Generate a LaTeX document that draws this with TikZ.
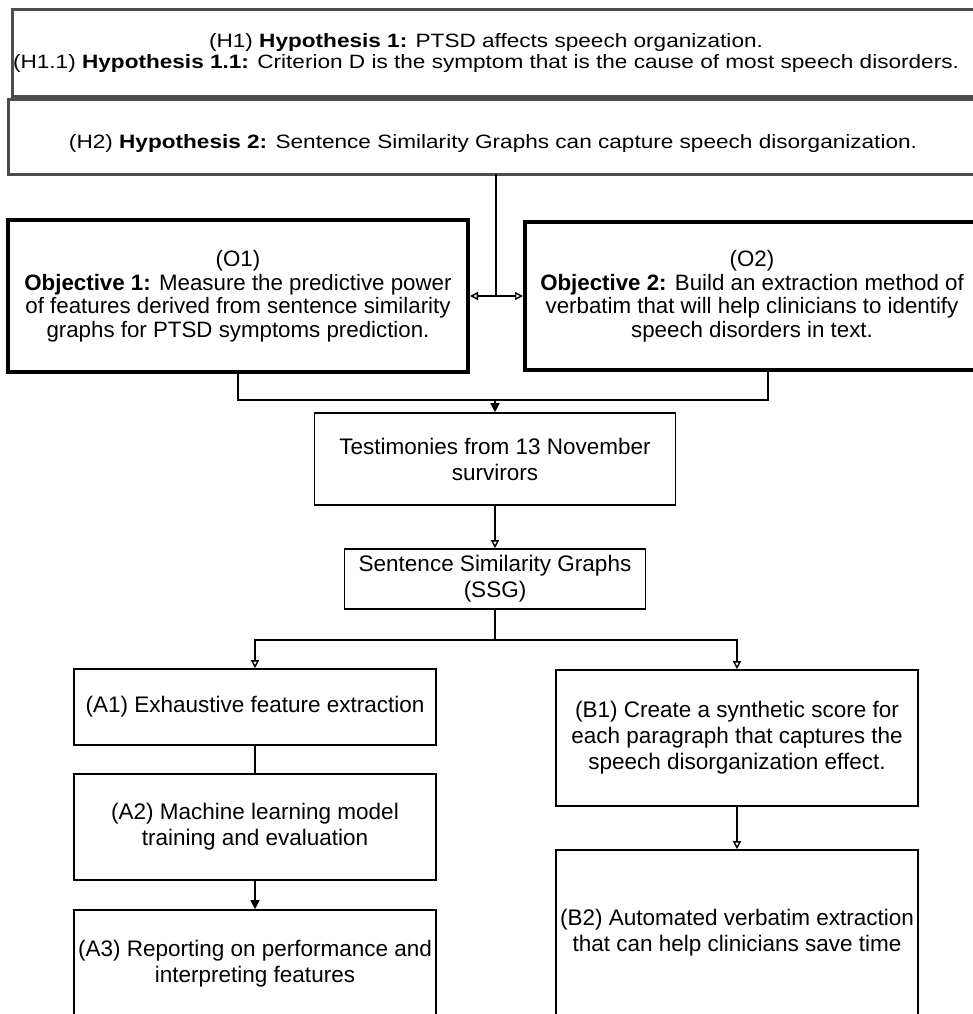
\documentclass[tikz,border=0pt]{standalone}
\usepackage{fontspec}
\setmainfont{Liberation Sans}
\newfontfamily\hypfont[FakeStretch=1.17]{Liberation Sans}
\usetikzlibrary{arrows.meta,calc}

\begin{document}
\begin{tikzpicture}[x=1pt,y=-1pt,
    box/.style={draw, line width=1.6pt, align=center, inner sep=2pt, font=\fontsize{22.5}{26}\selectfont},
    objbox/.style={box, line width=4pt, font=\fontsize{22.3}{23.5}\selectfont},
    hyptext/.style={align=center, inner sep=0pt, font=\hypfont\fontsize{19.3}{21}\selectfont},
    hframe/.style={draw=black!70, line width=3pt},
    line/.style={line width=1.4pt},
    link/.style={line, -{Triangle[open, length=8pt, width=8pt]}},
    solidlink/.style={line, -{Triangle[length=9pt, width=9pt]}}]
    \useasboundingbox (0,0) rectangle (973,1014);

    % hypotheses
    \draw [hframe] (12,10) rectangle (995,97);
    \draw [hframe] (8,100) rectangle (995,174);
    \node [hyptext] (h1) at (486,53) {(H1) \textbf{Hypothesis 1:} PTSD affects speech organization.\\(H1.1) \textbf{Hypothesis 1.1:} Criterion D is the symptom that is the cause of most speech disorders.};
    \node [hyptext] (h2) at (493,144) {(H2) \textbf{Hypothesis 2:} Sentence Similarity Graphs can capture speech disorganization.};
    \coordinate (hout) at (496,174);

    % objectives
    \node [objbox, minimum width=460pt, minimum height=152pt] (o1) at (238,296) {(O1)\\\textbf{Objective 1:} Measure the predictive power\\of features derived from sentence similarity\\graphs for PTSD symptoms prediction.};
    \node [objbox, minimum width=454pt, minimum height=148pt] (o2) at (752,296) {(O2)\\\textbf{Objective 2:} Build an extraction method of\\verbatim that will help clinicians to identify\\speech disorders in text.};

    % data
    \node [box, minimum width=361pt, minimum height=92pt] (test) at (495,459) {Testimonies from 13 November\\survirors};
    \node [box, minimum width=301pt, minimum height=60pt] (ssg) at (495,579) {Sentence Similarity Graphs\\(SSG)};

    % branch A
    \node [box, minimum width=362pt, minimum height=76pt] (a1) at (255,707) {(A1) Exhaustive feature extraction};
    \node [box, minimum width=362pt, minimum height=106pt] (a2) at (255,827) {(A2) Machine learning model\\training and evaluation};
    \node [box, minimum width=362pt, minimum height=108pt] (a3) at (255,964) {(A3) Reporting on performance and\\interpreting features};

    % branch B
    \node [box, minimum width=362pt, minimum height=136pt] (b1) at (737,738) {(B1) Create a synthetic score for\\each paragraph that captures the\\speech disorganization effect.};
    \node [box, minimum width=362pt, minimum height=166pt] (b2) at (737,933) {(B2) Automated verbatim extraction\\that can help clinicians save time};

    % connectors
    \draw [line] (hout) -- (hout |- o1.east);
    \draw [line, {Triangle[open, length=8pt, width=8pt]}-{Triangle[open, length=8pt, width=8pt]}] (o1.east) -- (o2.west);

    \coordinate (join) at (495,400);
    \coordinate (o2out) at ([xshift=16pt]o2.south);
    \draw [line] (o1.south) |- (join) -| (o2out);
    \draw [solidlink] (join) -- (test.north);
    \draw [link] (test.south) -- (ssg.north);

    \coordinate (fork) at ($(ssg.south)+(0,30)$);
    \draw [line] (ssg.south) -- (fork);
    \draw [link] (fork) -| (a1.north);
    \draw [link] (fork) -| (b1.north);

    \draw [line] (a1.south) -- (a2.north);
    \draw [solidlink] (a2.south) -- (a3.north);
    \draw [link] (b1.south) -- (b2.north);
\end{tikzpicture}
\end{document}
